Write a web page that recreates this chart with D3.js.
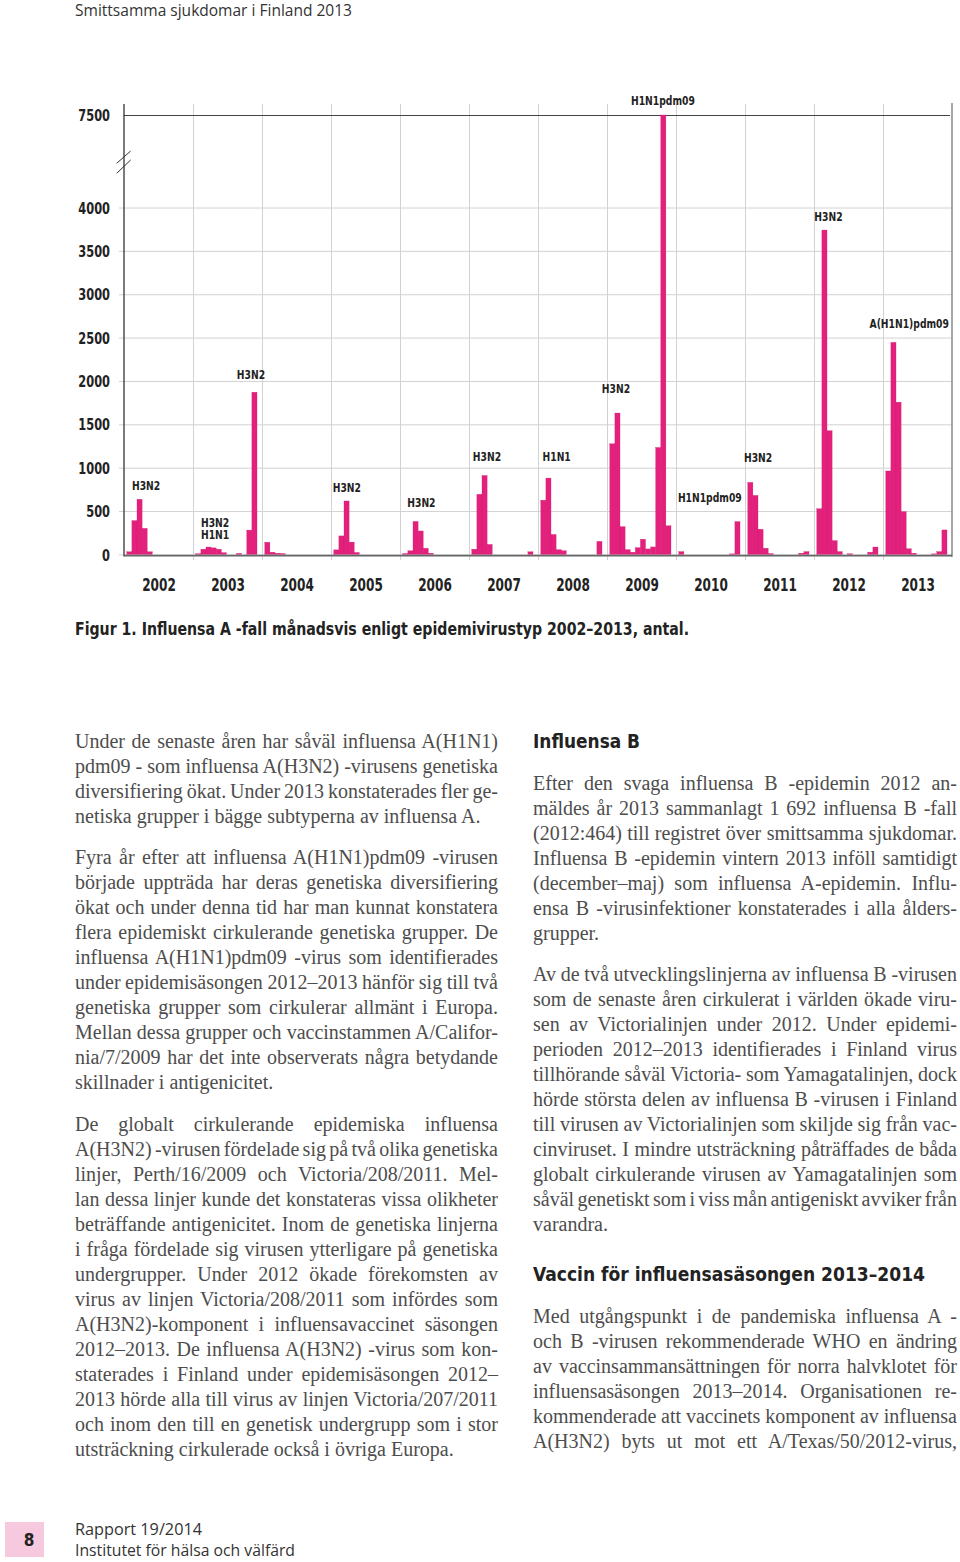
<!DOCTYPE html>
<html><head><meta charset="utf-8">
<script src="https://cdn.jsdelivr.net/npm/d3@7"></script>
<style>
html,body{margin:0;padding:0;background:#fff;}
svg{display:block;}
</style></head>
<body>
<svg id="page" width="960" height="1562"></svg>
<script>
// ---------- DATA ----------
const years = [2002,2003,2004,2005,2006,2007,2008,2009,2010,2011,2012,2013];
const cases2002 = [30, 390, 636, 300, 30, 0, 0, 0, 0, 0, 0, 0];
const cases2003 = [8, 60, 85, 75, 60, 20, 0, 0, 12, 0, 280, 1870];
const cases2004 = [140, 25, 14, 10, 0, 0, 0, 0, 0, 0, 0, 0];
const cases2005 = [52, 213, 616, 142, 22, 0, 0, 0, 0, 0, 0, 0];
const cases2006 = [10, 42, 380, 270, 70, 14, 0, 0, 0, 0, 0, 0];
const cases2007 = [60, 693, 910, 115, 0, 0, 0, 0, 0, 0, 0, 30];
const cases2008 = [625, 880, 230, 54, 42, 0, 0, 0, 0, 0, 0, 150];
const cases2009 = [1275, 1630, 320, 55, 25, 78, 175, 63, 86, 1233, 7500, 330];
const cases2010 = [32, 0, 0, 0, 0, 0, 0, 0, 0, 0, 6, 378];
const cases2011 = [830, 680, 290, 71, 10, 0, 0, 0, 0, 0, 14, 32];
const cases2012 = [526, 3740, 1426, 159, 32, 0, 8, 0, 0, 0, 25, 85];
const cases2013 = [962, 2445, 1755, 493, 65, 14, 0, 0, 0, 6, 32, 282];
const monthlyCases = [cases2002,cases2003,cases2004,cases2005,cases2006,cases2007,
                      cases2008,cases2009,cases2010,cases2011,cases2012,cases2013];
const yTicks = [0,500,1000,1500,2000,2500,3000,3500,4000,7500];
// annotation texts, anchored in data units (year fraction, case count)
const labelTexts  = ["H3N2","H3N2|H1N1","H3N2","H3N2","H3N2","H3N2","H1N1","H3N2","H1N1pdm09","H1N1pdm09","H3N2","H3N2","A(H1N1)pdm09"];
const labelAtYear = [2002.32,2003.32,2003.84,2005.23,2006.31,2007.26,2008.27,2009.13,2009.81,2010.49,2011.19,2012.21,2013.38];
const labelAtCases= [793,372,2068,770,601,1127,1127,1915,8030,654,1115,3892,2656];
const caption = "Figur 1. Influensa A -fall månadsvis enligt epidemivirustyp 2002–2013, antal.";

// ---------- LAYOUT ----------
const svg = d3.select("#page");
svg.append("rect").attr("width",960).attr("height",1562).attr("fill","#fff");
const condensed = "'Liberation Sans Narrow','Arial Narrow','DejaVu Sans Condensed',sans-serif";
const sans = "'Open Sans','Noto Sans','DejaVu Sans',sans-serif";
const serif = "'Liberation Serif','Times New Roman',serif";
const pink = "#e3217d";
function condense(sel, f){
  sel.each(function(){
    const w = this.getComputedTextLength();
    d3.select(this).attr("textLength", w*f).attr("lengthAdjust","spacingAndGlyphs");
  });
}

const xLeft = 124, xRight = 952;
const x = d3.scaleLinear().domain([2002, 2014]).range([xLeft, xRight]);
const y = d3.scaleLinear().domain([0, 4000, 7500]).range([554.4, 207.5, 115]);
const month = d3.scaleBand().domain(d3.range(12)).range([2.8, 64.0]).padding(0);

// header
svg.append("text").attr("x",75).attr("y",16).attr("font-family",sans).attr("font-size",15.5)
  .attr("fill","#333").attr("textLength",277).attr("lengthAdjust","spacingAndGlyphs")
  .text("Smittsamma sjukdomar i Finland 2013");

const chart = svg.append("g");

// vertical year gridlines
const yearBounds = d3.range(2003, 2014);
const xAxis = d3.axisBottom(x).tickValues(yearBounds).tickSize(-(560-104)).tickFormat("");
chart.append("g").attr("transform","translate(0,560)").call(xAxis)
  .call(g => g.select(".domain").remove())
  .call(g => g.selectAll(".tick line").attr("stroke","#d2d2d2").attr("stroke-width",1));

// horizontal gridlines + labels
const yAxis = d3.axisLeft(y).tickValues(yTicks).tickSize(-(xRight - xLeft + 5)).tickPadding(9).tickFormat(d3.format("d"));
chart.append("g").attr("transform",`translate(${xLeft-5},0)`).call(yAxis)
  .call(g => g.select(".domain").remove())
  .call(g => g.selectAll(".tick line").attr("stroke", d => d===7500 ? "#444" : "#d2d2d2")
        .attr("stroke-width", d => d===7500 ? 1.2 : 1)
        .attr("x2", d => d===7500 ? (xRight - xLeft - 2) : (xRight - xLeft + 5)))
  .call(g => g.selectAll(".tick").filter(d => d===7500).select("line").attr("transform","translate(5,0)"))
  .call(g => g.selectAll(".tick text").attr("font-family",condensed).attr("font-weight","bold")
        .attr("font-size",16).attr("fill","#222").attr("dy","0.35em").call(condense, 0.79));

// bars
years.forEach((yr, i) => {
  chart.append("g").selectAll("rect").data(monthlyCases[i].map((v,m)=>({v,m})).filter(d=>d.v>0))
    .join("rect")
    .attr("x", d => x(yr) + month(d.m))
    .attr("width", month.bandwidth())
    .attr("y", d => y(d.v))
    .attr("height", d => y(0) - y(d.v))
    .attr("fill", pink)
    .attr("stroke", "#cf1a70").attr("stroke-width", 0.3);
});

// axes frame
chart.append("line").attr("x1",xLeft).attr("x2",xLeft).attr("y1",104).attr("y2",556.5)
  .attr("stroke","#333").attr("stroke-width",1.3);
chart.append("line").attr("x1",xRight).attr("x2",xRight).attr("y1",103).attr("y2",557)
  .attr("stroke","#888").attr("stroke-width",1.5);
chart.append("line").attr("x1",xLeft).attr("x2",xRight).attr("y1",555.6).attr("y2",555.6)
  .attr("stroke","#666").attr("stroke-width",1.6);

// axis break marks
chart.append("path").attr("d","M116.7,163.3L130.7,151M116.7,173.3L130.7,160")
  .attr("stroke","#333").attr("stroke-width",1).attr("fill","none");

// year labels
const xLab = d3.axisBottom(x).tickValues(years.map(d => d + 0.5)).tickSize(0).tickPadding(0)
  .tickFormat(d => String(Math.floor(d)));
chart.append("g").attr("transform","translate(0,575)").call(xLab)
  .call(g => g.select(".domain").remove())
  .call(g => g.selectAll(".tick text").attr("font-family",condensed).attr("font-weight","bold")
        .attr("font-size",17).attr("fill","#222").attr("dy","0.95em").call(condense, 0.79));

// annotations (horizontally condensed via transform)
labelTexts.forEach((t, i) => {
  const lines = t.split("|");
  lines.forEach((l, j) => {
    chart.append("text")
      .attr("transform", `translate(${x(labelAtYear[i])},${y(labelAtCases[i]) + j*12.5}) scale(0.82,1)`)
      .attr("dy","0.35em")
      .attr("text-anchor","middle").attr("font-family",condensed).attr("font-weight","bold")
      .attr("font-size",12.5).attr("fill","#222").text(l);
  });
});

// caption
svg.append("text").attr("x",75).attr("y",635).attr("font-family",condensed).attr("font-weight","bold")
  .attr("font-size",17.5).attr("fill","#222").attr("textLength",614).attr("lengthAdjust","spacingAndGlyphs")
  .text(caption);

// ---------- BODY TEXT ----------
// [text, line centre y, justified?]
const leftLines = [
 ["Under de senaste åren har såväl influensa A(H1N1)",742,1],
 ["pdm09 - som influensa A(H3N2) -virusens genetiska",767,1],
 ["diversifiering ökat. Under 2013 konstaterades fler ge-",792,1],
 ["netiska grupper i bägge subtyperna av influensa A.",817,0],
 ["Fyra år efter att influensa A(H1N1)pdm09 -virusen",858,1],
 ["började uppträda har deras genetiska diversifiering",883,1],
 ["ökat och under denna tid har man kunnat konstatera",908,1],
 ["flera epidemiskt cirkulerande genetiska grupper. De",933,1],
 ["influensa A(H1N1)pdm09 -virus som identifierades",958,1],
 ["under epidemisäsongen 2012–2013 hänför sig till två",983,1],
 ["genetiska grupper som cirkulerar allmänt i Europa.",1008,1],
 ["Mellan dessa grupper och vaccinstammen A/Califor-",1033,1],
 ["nia/7/2009 har det inte observerats några betydande",1058,1],
 ["skillnader i antigenicitet.",1083,0],
 ["De globalt cirkulerande epidemiska influensa",1125,1],
 ["A(H3N2) -virusen fördelade sig på två olika genetiska",1150,1],
 ["linjer, Perth/16/2009 och Victoria/208/2011. Mel-",1175,1],
 ["lan dessa linjer kunde det konstateras vissa olikheter",1200,1],
 ["beträffande antigenicitet. Inom de genetiska linjerna",1225,1],
 ["i fråga fördelade sig virusen ytterligare på genetiska",1250,1],
 ["undergrupper. Under 2012 ökade förekomsten av",1275,1],
 ["virus av linjen Victoria/208/2011 som infördes som",1300,1],
 ["A(H3N2)-komponent i influensavaccinet säsongen",1325,1],
 ["2012–2013. De influensa A(H3N2) -virus som kon-",1350,1],
 ["staterades i Finland under epidemisäsongen 2012–",1375,1],
 ["2013 hörde alla till virus av linjen Victoria/207/2011",1400,1],
 ["och inom den till en genetisk undergrupp som i stor",1425,1],
 ["utsträckning cirkulerade också i övriga Europa.",1450,0]
];
const rightLines = [
 ["Efter den svaga influensa B -epidemin 2012 an-",784,1],
 ["mäldes år 2013 sammanlagt 1 692 influensa B -fall",809,1],
 ["(2012:464) till registret över smittsamma sjukdomar.",834,1],
 ["Influensa B -epidemin vintern 2013 inföll samtidigt",859,1],
 ["(december–maj) som influensa A-epidemin. Influ-",884,1],
 ["ensa B -virusinfektioner konstaterades i alla ålders-",909,1],
 ["grupper.",934,0],
 ["Av de två utvecklingslinjerna av influensa B -virusen",975,1],
 ["som de senaste åren cirkulerat i världen ökade viru-",1000,1],
 ["sen av Victorialinjen under 2012. Under epidemi-",1025,1],
 ["perioden 2012–2013 identifierades i Finland virus",1050,1],
 ["tillhörande såväl Victoria- som Yamagatalinjen, dock",1075,1],
 ["hörde största delen av influensa B -virusen i Finland",1100,1],
 ["till virusen av Victorialinjen som skiljde sig från vac-",1125,1],
 ["cinviruset. I mindre utsträckning påträffades de båda",1150,1],
 ["globalt cirkulerande virusen av Yamagatalinjen som",1175,1],
 ["såväl genetiskt som i viss mån antigeniskt avviker från",1200,1],
 ["varandra.",1225,0],
 ["Med utgångspunkt i de pandemiska influensa A -",1317,1],
 ["och B -virusen rekommenderade WHO en ändring",1342,1],
 ["av vaccinsammansättningen för norra halvklotet för",1367,1],
 ["influensasäsongen 2013–2014. Organisationen re-",1392,1],
 ["kommenderade att vaccinets komponent av influensa",1417,1],
 ["A(H3N2) byts ut mot ett A/Texas/50/2012-virus,",1442,1]
];
function bodyText(lines, x0, colW){
  svg.append("g").selectAll("text").data(lines).join("text")
    .attr("x", x0).attr("y", d => d[1] + 6)
    .attr("font-family", serif).attr("font-size", 20).attr("fill", "#4d4d4d")
    .text(d => d[0])
    .each(function(d){
      const w = this.getComputedTextLength();
      const spaces = (d[0].match(/ /g) || []).length;
      if ((d[2] || w > colW) && spaces > 0) {
        d3.select(this).attr("word-spacing", (colW - w) / spaces);
      }
    });
}
bodyText(leftLines, 75, 423);
bodyText(rightLines, 533, 424);

// headings
svg.append("text").attr("x",533).attr("y",748).attr("font-family",condensed).attr("font-weight","bold")
  .attr("font-size",20).attr("fill","#222").attr("textLength",107).attr("lengthAdjust","spacingAndGlyphs")
  .text("Influensa B");
svg.append("text").attr("x",533).attr("y",1281).attr("font-family",condensed).attr("font-weight","bold")
  .attr("font-size",20).attr("fill","#222").attr("textLength",392).attr("lengthAdjust","spacingAndGlyphs")
  .text("Vaccin för influensasäsongen 2013–2014");

// footer
svg.append("rect").attr("x",5).attr("y",1522).attr("width",39).attr("height",35).attr("fill","#f6c9de");
svg.append("text").attr("x",29).attr("y",1546).attr("text-anchor","middle").attr("font-family",condensed)
  .attr("font-weight","bold").attr("font-size",17).attr("fill","#222").text("8");
svg.append("text").attr("x",75).attr("y",1535).attr("font-family",sans).attr("font-size",16.5)
  .attr("fill","#333").attr("textLength",127).attr("lengthAdjust","spacingAndGlyphs").text("Rapport  19/2014");
svg.append("text").attr("x",75).attr("y",1556).attr("font-family",sans).attr("font-size",16.5)
  .attr("fill","#333").attr("textLength",220).attr("lengthAdjust","spacingAndGlyphs").text("Institutet för hälsa och välfärd");
</script>
</body></html>
